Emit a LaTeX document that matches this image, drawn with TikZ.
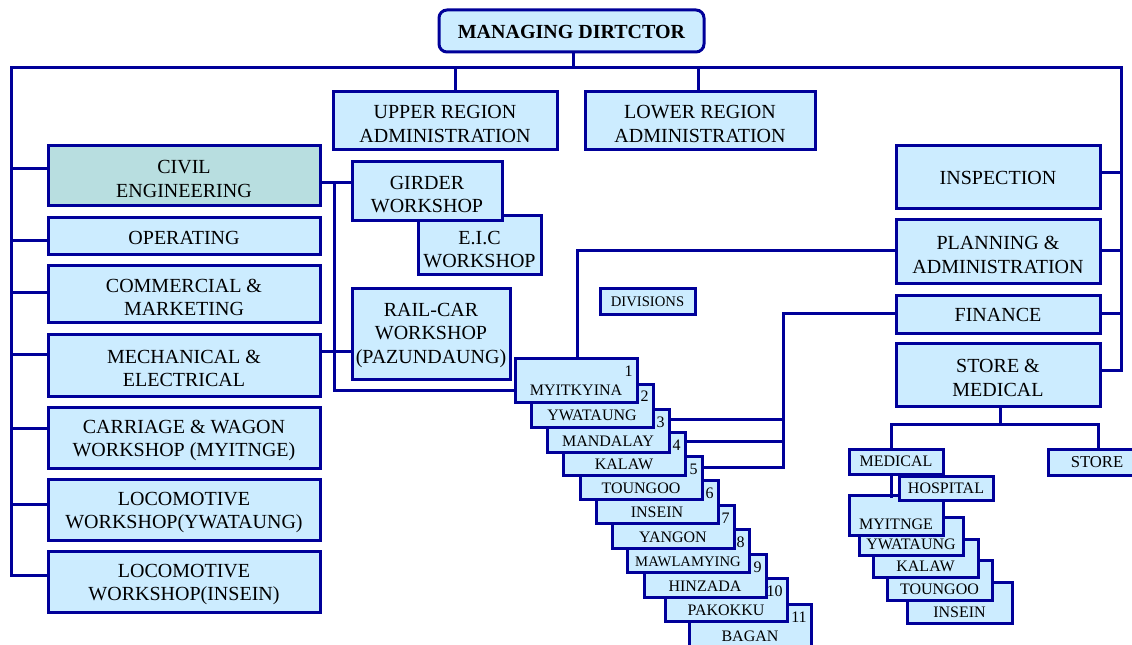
\documentclass[tikz,border=0pt]{standalone}
\usepackage{fontspec}
\setmainfont{Liberation Serif}
\definecolor{ln}{RGB}{0,0,153}
\definecolor{bf}{RGB}{204,236,255}
\definecolor{cf}{RGB}{184,222,224}
\pgfdeclarelayer{bgzero}
\pgfdeclarelayer{background}
\pgfsetlayers{bgzero,background,main}
% \bx[box options]{name}{x1}{y1}{x2}{y2}{text drop in px}{text}
\newcommand\bx[8][]{%
  \node[box,#1,minimum width={(#5-#3)*0.75pt},minimum height={(#6-#4)*0.75pt}] (#2) at ({(#3+#5)/2},{(#4+#6)/2}) {};
  \node[tx] (#2t) at ([shift={(0,#7)}]#2.center) {#8};}
\tikzset{
  box/.style={draw=ln, fill=bf, line width=2.25pt, inner sep=0pt, outer sep=0pt},
  tx/.style={inner sep=0pt, align=center, font=\fontsize{15}{17.8}\selectfont, text=black},
  con/.style={draw=ln, line width=2.25pt, line cap=rect},
  lbl/.style={inner sep=0pt, anchor=base, font=\fontsize{12}{14}\selectfont},
  num/.style={inner sep=0pt, anchor=base east, font=\fontsize{12}{14}\selectfont},
}
\newcommand\smtxt{\fontsize{12}{14}\selectfont}
\begin{document}
\begin{tikzpicture}[x=0.75pt,y=-0.75pt]
\useasboundingbox (0,0) rectangle (1132,645);
\clip (0,0) rectangle (1132,645);
\begin{pgfonlayer}{bgzero}
\fill[white] (0,0) rectangle (1132,645);
\end{pgfonlayer}

% top
\bx[rounded corners=6pt]{md}{439}{10}{704}{52}{1}{\bfseries MANAGING DIRTCTOR}
\bx{ur}{333}{92}{557}{150}{3}{UPPER REGION\\ADMINISTRATION}
\bx{lr}{585}{92}{815}{150}{3}{LOWER REGION\\ADMINISTRATION}

% left column
\bx[fill=cf]{civ}{48}{146}{320}{206}{3}{CIVIL\\ENGINEERING}
\bx{op}{48}{218}{320}{255}{1}{OPERATING}
\bx{com}{48}{266}{320}{323}{3}{COMMERCIAL \&\\MARKETING}
\bx{mec}{48}{335}{320}{396}{3}{MECHANICAL \&\\ELECTRICAL}
\bx{cw}{48}{407}{320}{468}{3}{CARRIAGE \& WAGON\\WORKSHOP (MYITNGE)}
\bx{ly}{48}{479}{320}{540}{3}{LOCOMOTIVE\\WORKSHOP(YWATAUNG)}
\bx{li}{48}{551}{320}{612}{3}{LOCOMOTIVE\\WORKSHOP(INSEIN)}

% workshops
\bx{eic}{418}{216}{541}{275}{4}{E.I.C\\WORKSHOP}
\bx{gw}{352}{162}{502}{221}{3}{GIRDER\\WORKSHOP}
\bx{rc}{352}{289}{510}{379}{1.5}{RAIL-CAR\\WORKSHOP\\(PAZUNDAUNG)}

% right column
\bx{insp}{896}{146}{1100}{209}{0}{INSPECTION}
\bx{plan}{896}{220}{1100}{284}{3}{PLANNING \&\\ADMINISTRATION}
\bx{fin}{896}{296}{1100}{334}{0}{FINANCE}
\bx{smd}{896}{344}{1100}{406}{3}{STORE \&\\MEDICAL}

\bx{div}{600}{289}{695}{315}{0}{\fontsize{11}{13}\selectfont DIVISIONS}

% divisions stack
\foreach \i/\x/\y/\nm in {11/689/604/BAGAN,10/665/578/PAKOKKU,9/644/554/HINZADA,
  8/627/529/{\fontsize{11}{13}\selectfont MAWLAMYING},7/612/505/YANGON,6/596/480/INSEIN,
  5/580/456/TOUNGOO,4/563/432/KALAW,3/547/409/MANDALAY,2/531/384/YWATAUNG,1/515/359/MYITKYINA}{
  \node[box,minimum width={122*0.75pt},minimum height={43*0.75pt},anchor=north west] (d\i) at (\x,\y) {};
  \node[lbl] (dn\i) at ([shift={(0,-6)}]d\i.south) {\nm};
  \node[num] (dk\i) at ([shift={(-4,18)}]d\i.north east) {\i};
}

% store & medical stack
\foreach \i/\xa/\ya/\xb/\yb/\nm in {5/907/582/1012/623/INSEIN,4/887/560/992/600/TOUNGOO,
  3/873/539/978/577/KALAW,2/859/517/963/555/YWATAUNG,1/849/495/943/535/MYITNGE}{
  \node[box,minimum width={(\xb-\xa)*0.75pt},minimum height={(\yb-\ya)*0.75pt},anchor=north west] (s\i) at (\xa,\ya) {};
  \node[lbl] (sn\i) at ([shift={(0,-6)}]s\i.south) {\nm};
}
\bx{hosp}{899}{476}{993}{500}{0}{\smtxt HOSPITAL}
\bx{medical}{849}{449}{943}{474}{0}{\smtxt MEDICAL}
\bx{store}{1048}{449}{1146}{475}{0}{\fontsize{12.5}{14}\selectfont STORE}

% connectors
\begin{pgfonlayer}{background}
\draw[con] (11,575) -- (11,68) -- (1121,68) -- (1121,371);
\coordinate (mdj) at (573.5,68);
\draw[con] (mdj) -- (mdj |- md.south);
\coordinate (urj) at (455,68);
\draw[con] (urj) -- (urj |- ur.north);
\coordinate (lrj) at (698,68);
\draw[con] (lrj) -- (lrj |- lr.north);
\foreach \n/\y in {civ/169,op/241,com/293,mec/355,cw/428,ly/504,li/575}{
  \coordinate (j\n) at (11,\y);
  \draw[con] (j\n) -- (j\n -| \n.west);
}
\foreach \n/\y in {insp/173,plan/251,fin/314,smd/371}{
  \coordinate (j\n) at (1121,\y);
  \draw[con] (j\n) -- (j\n -| \n.east);
}
\coordinate (cj) at (334,183);
\coordinate (cb) at (334,390);
\draw[con] (cj -| civ.east) -- (cj -| gw.west);
\draw[con] (cj) -- (cb) -- (cb -| d1.west);
\coordinate (mj) at (334,352);
\draw[con] (mj -| mec.east) -- (mj -| rc.west);
\coordinate (pj) at (577,251);
\draw[con] (pj -| plan.west) -- (pj) -- (pj |- d1.north);
\coordinate (fj) at (783,314);
\coordinate (fe) at (783,467);
\draw[con] (fj -| fin.west) -- (fj) -- (fe);
\foreach \i/\y in {3/419,4/441,5/467}{
  \coordinate (fb\i) at (783,\y);
  \draw[con] (fb\i) -- (fb\i -| d\i.east);
}
\coordinate (sj) at (1000,424);
\coordinate (ml) at (891,424);
\coordinate (sr) at (1098,424);
\draw[con] (sj |- smd.south) -- (sj);
\draw[con] (ml) -- (sr);
\draw[con] (ml) -- (ml |- medical.north);
\draw[con] (sr) -- (sr |- store.north);
\end{pgfonlayer}
\coordinate (mst) at (891,498);
\draw[con, line cap=butt] (mst |- medical.south) -- (mst);
\end{tikzpicture}
\end{document}
